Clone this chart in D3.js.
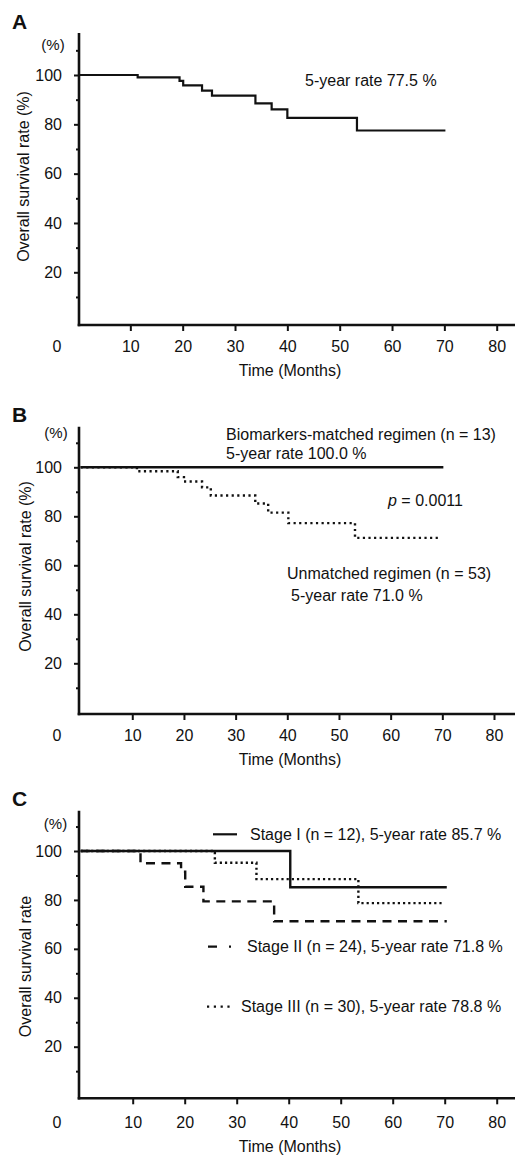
<!DOCTYPE html>
<html><head><meta charset="utf-8">
<script src="https://cdn.jsdelivr.net/npm/d3@7"></script>
<style>
body{margin:0;background:#fff}
svg{display:block}
text{font-family:"Liberation Sans",Arial,Helvetica,sans-serif;fill:#111}
</style>
</head><body>
<svg id="chart" width="515" height="1155"></svg>
<script>
// ---------- data ----------
const xTickValues = [10, 20, 30, 40, 50, 60, 70, 80];
const yTickValues = [20, 40, 60, 80, 100];
const yMinorTickValues = [10, 30, 50, 70, 90, 110];

// Panel A: all patients
const allMonths   = [0, 11.4, 19.4, 20.1, 23.7, 25.6, 33.9, 37.0, 40.0, 53.3, 70.2];
const allSurvival = [100, 99.0, 97.6, 95.8, 93.7, 91.6, 88.5, 86.1, 82.6, 77.5, 77.5];

// Panel B: matched vs unmatched
const matchedMonths   = [0, 70.2];
const matchedSurvival = [100, 100];
const unmatchedMonths   = [0, 10.9, 18.8, 20.0, 23.5, 25.2, 33.8, 36.3, 40.2, 53.1, 69.6];
const unmatchedSurvival = [100, 98.4, 96.0, 94.2, 91.8, 88.5, 85.2, 81.5, 77.2, 71.2, 71.2];

// Panel C: stages
const stage1Months   = [0, 40.3, 70.4];
const stage1Survival = [100, 85.2, 85.2];
const stage2Months   = [0, 11.5, 19.3, 20.1, 23.6, 37.2, 70.4];
const stage2Survival = [100, 95.0, 91.5, 85.4, 79.4, 71.3, 71.3];
const stage3Months   = [0, 25.8, 33.8, 53.4, 69.7];
const stage3Survival = [100, 95.2, 88.5, 78.7, 78.7];

// ---------- drawing ----------
const svg = d3.select("#chart");
const W = 515;
const AXIS_X = 79;
const INK = "#111";

const panels = [
  {letter:"A", letterY:29, x0:78, x80:496.7, y100:75, y20:272.3, yTop:33, axisY:325,
   pctX:53, pctY:49.5, yLabel:"Overall survival rate (%)", yLabelX:28.5, yLabelY:176.5,
   tickBase:352, titleBase:376},
  {letter:"B", letterY:422, x0:80.6, x80:494, y100:467.3, y20:663.3, yTop:426.7, axisY:714,
   pctX:56, pctY:438, yLabel:"Overall survival rate (%)", yLabelX:31, yLabelY:566.5,
   tickBase:740.5, titleBase:765},
  {letter:"C", letterY:806, x0:80.7, x80:496.7, y100:851, y20:1046.7, yTop:810.7, axisY:1098.3,
   pctX:55.5, pctY:829, yLabel:"Overall survival rate", yLabelX:31, yLabelY:966.5,
   tickBase:1128, titleBase:1151.5}
];

function zip(xs, ys){ return xs.map((t,i)=>({t, s:ys[i]})); }

panels.forEach(p => {
  p.x = d3.scaleLinear().domain([0, 80]).range([p.x0, p.x80]);
  p.y = d3.scaleLinear().domain([20, 100]).range([p.y20, p.y100]);
  const g = svg.append("g");

  // panel letter
  g.append("text").attr("x", 12).attr("y", p.letterY)
    .attr("font-size", 21).attr("font-weight", "bold").text(p.letter);

  // y axis (major)
  const yAx = g.append("g").attr("transform", `translate(${AXIS_X},0)`)
    .call(d3.axisLeft(p.y).tickValues(yTickValues).tickSize(5).tickPadding(12));
  yAx.select(".domain").remove();
  yAx.selectAll(".tick line").attr("stroke", INK).attr("stroke-width", 2);
  yAx.selectAll(".tick text").attr("font-size", 16).attr("fill", INK)
    .attr("font-family", '"Liberation Sans",Arial,sans-serif');
  // y axis (minor)
  const yMin = g.append("g").attr("transform", `translate(${AXIS_X},0)`)
    .call(d3.axisLeft(p.y).tickValues(yMinorTickValues).tickSize(3).tickFormat(""));
  yMin.select(".domain").remove();
  yMin.selectAll(".tick line").attr("stroke", INK).attr("stroke-width", 2);

  // x axis
  const xAx = g.append("g").attr("transform", `translate(0,${p.axisY})`)
    .call(d3.axisBottom(p.x).tickValues(xTickValues).tickSize(6));
  xAx.select(".domain").remove();
  xAx.selectAll(".tick line").attr("stroke", INK).attr("stroke-width", 2);
  xAx.selectAll(".tick text").attr("font-size", 16).attr("fill", INK)
    .attr("font-family", '"Liberation Sans",Arial,sans-serif')
    .attr("y", p.tickBase - p.axisY).attr("dy", 0);

  // axis lines
  g.append("line").attr("x1", AXIS_X).attr("x2", AXIS_X)
    .attr("y1", p.yTop).attr("y2", p.axisY + 1.2)
    .attr("stroke", INK).attr("stroke-width", 2.6);
  g.append("line").attr("x1", AXIS_X - 1.3).attr("x2", W)
    .attr("y1", p.axisY).attr("y2", p.axisY)
    .attr("stroke", INK).attr("stroke-width", 2.6);

  // origin "0", "(%)"
  g.append("text").attr("x", 57).attr("y", p.tickBase).attr("text-anchor", "middle")
    .attr("font-size", 16).text("0");
  g.append("text").attr("x", p.pctX).attr("y", p.pctY).attr("text-anchor", "middle")
    .attr("font-size", 15).text("(%)");

  // axis titles
  g.append("text").attr("x", 290).attr("y", p.titleBase).attr("text-anchor", "middle")
    .attr("font-size", 16).text("Time (Months)");
  g.append("text").attr("transform", `translate(${p.yLabelX},${p.yLabelY}) rotate(-90)`)
    .attr("text-anchor", "middle").attr("font-size", 16).text(p.yLabel);

  p.g = g;
});

function curve(p, months, surv, dash, width){
  const line = d3.line().x(d => p.x(d.t)).y(d => p.y(d.s)).curve(d3.curveStepAfter);
  p.g.append("path").datum(zip(months, surv)).attr("d", line)
    .attr("fill", "none").attr("stroke", INK).attr("stroke-width", width || 2.2)
    .attr("stroke-dasharray", dash || null);
}
function label(p, x, y, txt, opts){
  const t = p.g.append("text").attr("x", x).attr("y", y).attr("font-size", (opts&&opts.size)||16);
  if (opts && opts.html) t.html(txt); else t.text(txt);
  return t;
}

const [A, B, C] = panels;

// Panel A
curve(A, allMonths, allSurvival);
label(A, 305, 86, "5-year rate 77.5 %");

// Panel B
curve(B, unmatchedMonths, unmatchedSurvival, "2.2,3.4", 2.4);
curve(B, matchedMonths, matchedSurvival, null, 2.4);
label(B, 226, 440, "Biomarkers-matched regimen (n = 13)");
label(B, 226, 459, "5-year rate 100.0 %");
label(B, 388, 506, '<tspan font-style="italic">p</tspan> = 0.0011', {html:true});
label(B, 287, 578.5, "Unmatched regimen (n = 53)");
label(B, 291, 600.5, "5-year rate 71.0 %");

// Panel C
curve(C, stage3Months, stage3Survival, "2.2,3", 2.4);
curve(C, stage2Months, stage2Survival, "9,6.5", 2.4);
curve(C, stage1Months, stage1Survival, null, 2.4);

C.g.append("line").attr("x1", 213).attr("x2", 237).attr("y1", 834.3).attr("y2", 834.3)
  .attr("stroke", INK).attr("stroke-width", 2.2);
label(C, 250, 840, "Stage I (n = 12), 5-year rate 85.7 %");
C.g.append("line").attr("x1", 208).attr("x2", 231).attr("y1", 946.7).attr("y2", 946.7)
  .attr("stroke", INK).attr("stroke-width", 2.2).attr("stroke-dasharray", "9,12,2");
label(C, 247, 951.7, "Stage II (n = 24), 5-year rate 71.8 %");
C.g.append("line").attr("x1", 207).attr("x2", 231).attr("y1", 1006.7).attr("y2", 1006.7)
  .attr("stroke", INK).attr("stroke-width", 2.2).attr("stroke-dasharray", "2.2,4.6");
label(C, 241, 1011.7, "Stage III (n = 30), 5-year rate 78.8 %");
</script>
</body></html>
